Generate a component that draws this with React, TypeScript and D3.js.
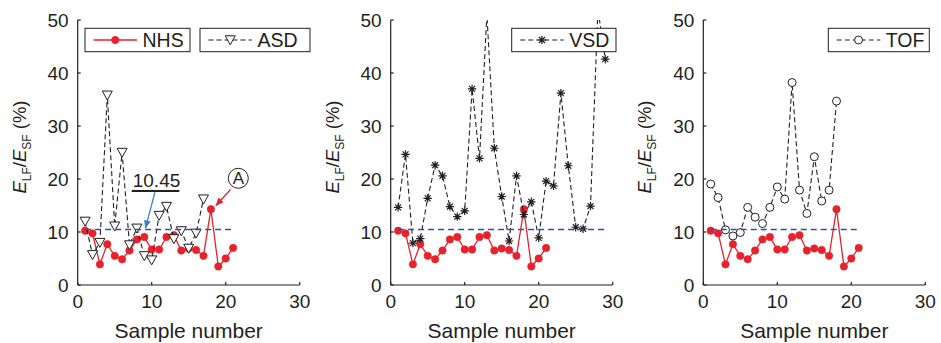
import React from "react";
import * as d3 from "d3";

const nhs = [10.25, 9.75, 3.9, 7.7, 5.5, 4.85, 6.5, 8.6, 9.05, 6.7, 6.7, 9.05, 9.4, 6.5, 6.9, 6.6, 5.5, 14.3, 3.5, 5.0, 7.0];
const asd = [12.0, 5.7, 8.0, 35.8, 11.1, 25.0, 7.55, 10.7, 5.5, 4.7, 13.1, 14.8, 8.7, 10.2, 6.9, 9.75, 16.2];
const vsd = [14.65, 24.65, 7.9, 8.75, 16.35, 22.6, 20.6, 14.8, 12.9, 14.0, 37.0, 23.9, 51, 25.8, 16.7, 8.3, 20.6, 13.3, 15.7, 8.9, 19.6, 18.7, 36.2, 22.5, 10.9, 10.6, 14.9, 52, 42.6];
const tof = [19.05, 16.5, 10.4, 9.25, 9.9, 14.65, 12.8, 11.6, 14.65, 18.5, 16.2, 38.2, 17.9, 13.5, 24.2, 15.85, 17.9, 34.7];
const threshold = 10.45;
const xTicks = [0, 10, 20, 30];
const yTicks = [0, 10, 20, 30, 40, 50];
const thresholdEnds = [[1, 21], [1, 29], [1, 21]];

const RED = "#e8212b";
const BLUE = "#2f4fa6";
const INK = "#231f20";
const FONT = "'Liberation Sans', Arial, Helvetica, sans-serif";

type Marker = "dot" | "tri" | "star" | "circle";

function MarkerShape({ kind, x, y }: { kind: Marker; x: number; y: number }) {
  if (kind === "dot") return <circle cx={x} cy={y} r={3.7} fill={RED} stroke={RED} strokeWidth={0.6} />;
  if (kind === "circle") return <circle cx={x} cy={y} r={4} fill="white" stroke={INK} strokeWidth={1} />;
  if (kind === "tri")
    return (
      <path
        d={`M${x - 5},${y - 4.2} L${x + 5},${y - 4.2} L${x},${y + 4.8} Z`}
        fill="white"
        stroke={INK}
        strokeWidth={1}
      />
    );
  const r = 4.2;
  const k = r * 0.7071;
  return (
    <path
      d={`M${x - r},${y}L${x + r},${y}M${x},${y - r}L${x},${y + r}M${x - k},${y - k}L${x + k},${y + k}M${x - k},${y + k}L${x + k},${y - k}`}
      stroke={INK}
      strokeWidth={1.2}
    />
  );
}

type Series = { values: number[]; marker: Marker; color: string; dash?: string; width: number };

const nhsSeries: Series = { values: nhs, marker: "dot", color: RED, width: 1.3 };
const asdSeries: Series = { values: asd, marker: "tri", color: INK, dash: "5,3", width: 1.1 };
const vsdSeries: Series = { values: vsd, marker: "star", color: INK, dash: "5,3", width: 1.1 };
const tofSeries: Series = { values: tof, marker: "circle", color: INK, dash: "5,3", width: 1.1 };

type LegendItem = { label: string; series: Series; x0: number; x1: number };

const panels = [
  {
    left: 77.7,
    series: [nhsSeries, asdSeries],
    legends: [
      { label: "NHS", series: nhsSeries, x0: 85, x1: 190 },
      { label: "ASD", series: asdSeries, x0: 200, x1: 310 },
    ] as LegendItem[],
    annotate: true,
  },
  {
    left: 390.7,
    series: [nhsSeries, vsdSeries],
    legends: [{ label: "VSD", series: vsdSeries, x0: 511.7, x1: 616 }] as LegendItem[],
    annotate: false,
  },
  {
    left: 703.3,
    series: [nhsSeries, tofSeries],
    legends: [{ label: "TOF", series: tofSeries, x0: 828.3, x1: 929.3 }] as LegendItem[],
    annotate: false,
  },
];

const TOP = 20;
const BOTTOM = 285;
const WIDTH = 222;

function Panel({ p, idx }: { p: (typeof panels)[number]; idx: number }) {
  const x = d3.scaleLinear().domain([0, 30]).range([p.left, p.left + WIDTH]);
  const y = d3.scaleLinear().domain([0, 50]).range([BOTTOM, TOP]);
  const clipId = `clip${idx}`;
  const te = thresholdEnds[idx];
  return (
    <g>
      <defs>
        <clipPath id={clipId}>
          <rect x={p.left - 6} y={TOP} width={WIDTH + 12} height={BOTTOM - TOP + 6} />
        </clipPath>
      </defs>
      <g clipPath={`url(#${clipId})`}>
        {p.series.map((s, si) => {
          const line = d3
            .line<number>()
            .x((_, i) => x(i + 1))
            .y((v) => y(v));
          return (
            <g key={si}>
              <path d={line(s.values) || ""} fill="none" stroke={s.color} strokeWidth={s.width} strokeDasharray={s.dash} />
              {s.values.map((v, i) => (
                <MarkerShape key={i} kind={s.marker} x={x(i + 1)} y={y(v)} />
              ))}
            </g>
          );
        })}
        <line
          x1={x(te[0])}
          x2={x(te[1])}
          y1={y(threshold)}
          y2={y(threshold)}
          stroke={BLUE}
          strokeWidth={1.5}
          strokeDasharray="6,4"
        />
      </g>
      {/* axes */}
      <g stroke={INK} strokeWidth={1.2} fill="none">
        <line x1={p.left} x2={p.left + WIDTH} y1={BOTTOM} y2={BOTTOM} />
        <line x1={p.left} x2={p.left} y1={TOP} y2={BOTTOM} />
        {xTicks.map((t) => (
          <line key={t} x1={x(t)} x2={x(t)} y1={BOTTOM} y2={BOTTOM - 3} />
        ))}
        {yTicks.map((t) => (
          <line key={t} x1={p.left} x2={p.left + 3} y1={y(t)} y2={y(t)} />
        ))}
      </g>
      <g fontFamily={FONT} fill={INK} fontSize={19}>
        {xTicks.map((t) => (
          <text key={t} x={x(t)} y={308.3} textAnchor="middle">
            {t}
          </text>
        ))}
        {yTicks.map((t) => (
          <text key={t} x={p.left - 9} y={y(t)} dy="0.36em" textAnchor="end">
            {t}
          </text>
        ))}
        <text x={x(15)} y={338} textAnchor="middle" fontSize={21}>
          Sample number
        </text>
        <text transform={`translate(${p.left - 52},147) rotate(-90)`} textAnchor="middle" fontSize={18.5}>
          <tspan fontStyle="italic">E</tspan>
          <tspan fontSize={12} dy={5}>LF</tspan>
          <tspan dy={-5}>/</tspan>
          <tspan fontStyle="italic">E</tspan>
          <tspan fontSize={12} dy={5}>SF</tspan>
          <tspan dy={-5}> (%)</tspan>
        </text>
      </g>
      {/* legends */}
      {p.legends.map((lg, li) => {
        const lx0 = lg.x0 + 8.5;
        const lx1 = lx0 + 43.5;
        const my = 40;
        return (
          <g key={li}>
            <rect x={lg.x0} y={28.3} width={lg.x1 - lg.x0} height={23.4} fill="white" stroke={INK} strokeWidth={1} />
            <line
              x1={lx0}
              x2={lx1}
              y1={my}
              y2={my}
              stroke={lg.series.color}
              strokeWidth={lg.series.width}
              strokeDasharray={lg.series.dash}
            />
            <MarkerShape kind={lg.series.marker} x={(lx0 + lx1) / 2} y={my} />
            <text x={lx1 + 5.5} y={47} fontFamily={FONT} fontSize={19.5} fill={INK}>
              {lg.label}
            </text>
          </g>
        );
      })}
      {p.annotate && (
        <g>
          <defs>
            <marker id="arrBlue" viewBox="0 0 10 10" refX="9" refY="5" markerWidth="7" markerHeight="7" orient="auto">
              <path d="M0,1 L10,5 L0,9 Z" fill="#3d7cc9" />
            </marker>
            <marker id="arrRed" viewBox="0 0 10 10" refX="9" refY="5" markerWidth="7" markerHeight="7" orient="auto">
              <path d="M0,1 L10,5 L0,9 Z" fill={RED} />
            </marker>
          </defs>
          <text x={156.5} y={187} textAnchor="middle" fontFamily={FONT} fontSize={19} fill={INK}>
            {threshold.toFixed(2)}
          </text>
          <line x1={131.7} x2={179.3} y1={191} y2={191} stroke={INK} strokeWidth={2} />
          <line x1={155} y1={192} x2={145.5} y2={228} stroke="#3d7cc9" strokeWidth={1.2} markerEnd="url(#arrBlue)" />
          <circle cx={238.3} cy={178.3} r={10} fill="white" stroke={INK} strokeWidth={1} />
          <text x={238.3} y={184.3} textAnchor="middle" fontFamily={FONT} fontSize={17} fill={INK}>
            A
          </text>
          <line x1={230.5} y1={189.5} x2={216} y2={205.5} stroke={RED} strokeWidth={1.2} markerEnd="url(#arrRed)" />
        </g>
      )}
    </g>
  );
}

export default function App() {
  return (
    <svg width={941} height={343} style={{ position: "absolute", left: 0, top: 0, background: "white" }}>
      <rect width={941} height={343} fill="white" />
      {panels.map((p, i) => (
        <Panel key={i} p={p} idx={i} />
      ))}
    </svg>
  );
}
